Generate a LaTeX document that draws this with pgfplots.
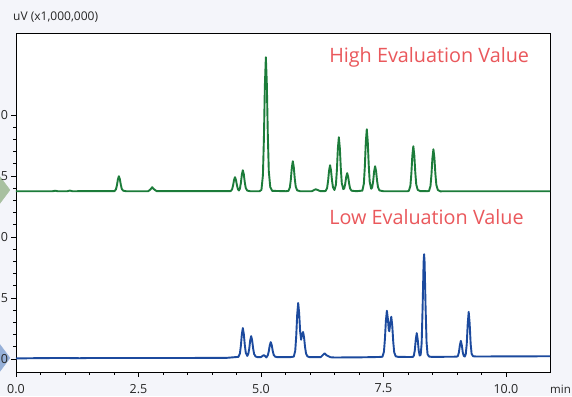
\documentclass[border=0pt]{standalone}
\usepackage{pgfplots}
\pgfplotsset{compat=1.18}
\usepackage{fontspec}
\setmainfont{Open Sans}
\definecolor{bgc}{RGB}{244,245,250}
\definecolor{grn}{RGB}{28,124,58}
\definecolor{blu}{RGB}{28,74,158}
\definecolor{redt}{RGB}{234,88,92}
\definecolor{gdia}{RGB}{168,192,160}
\definecolor{bdia}{RGB}{150,176,216}
\pgfplotsset{common/.style={
  at={(0pt,0pt)}, anchor=south west,
  scale only axis, width=534pt, height=339pt,
  xmin=0, xmax=10.9, ymin=-0.107, ymax=2.672}}
\begin{document}
\begin{tikzpicture}
\useasboundingbox (-16pt,-24pt) rectangle (556pt,372pt);
\clip (-16pt,-24pt) rectangle (556pt,372pt);
\fill[bgc] (-16pt,-24pt) rectangle (556pt,372pt);
\begin{axis}[common, hide axis, clip=false]
\addplot[only marks, mark=diamond*, mark size=14pt, color=gdia] coordinates {(-0.337,1.385)};
\addplot[only marks, mark=diamond*, mark size=14pt, color=bdia] coordinates {(-0.337,0.008)};
\end{axis}
\begin{axis}[
  common,
  axis background/.style={fill=white},
  xtick={0,2.5,5,7.5,10}, minor x tick num=4,
  ytick={0,0.5,1,1.5,2}, minor y tick num=4,
  xtick pos=bottom, ytick pos=left,
  tick align=outside,
  major tick length=4.5pt, minor tick length=2.5pt,
  tick style={black, line width=0.6pt},
  axis line style={black, line width=0.9pt},
  /pgf/number format/assume math mode=true,
  xticklabel={\pgfmathprintnumber[fixed,fixed zerofill,precision=1]{\tick}},
  yticklabel={\pgfmathprintnumber[fixed,fixed zerofill,precision=1]{\tick}},
  tick label style={font=\fontsize{12.5}{14}\selectfont, text=black!85},
  xticklabel style={inner sep=1pt},
  xticklabel shift=6.3pt,
  clip=false,
]
\addplot[grn, line width=1.9pt, line join=round] coordinates {
(0,1.375)(0.75,1.375)(0.80,1.379)(0.85,1.375)(1.05,1.375)(1.10,1.380)(1.15,1.375)
(2.01,1.376)(2.04,1.390)(2.06,1.423)(2.08,1.472)(2.10,1.498)(2.12,1.473)(2.14,1.427)(2.16,1.393)(2.19,1.379)(2.25,1.375)
(2.70,1.375)(2.75,1.392)(2.78,1.408)(2.81,1.393)(2.87,1.376)
(4.38,1.376)(4.41,1.389)(4.43,1.420)(4.45,1.466)(4.47,1.490)(4.49,1.467)(4.51,1.423)(4.53,1.392)(4.55,1.381)
(4.57,1.396)(4.59,1.442)(4.61,1.511)(4.63,1.547)(4.65,1.513)(4.67,1.447)(4.69,1.401)(4.72,1.380)(4.78,1.375)
(4.97,1.375)(5.01,1.386)(5.04,1.507)(5.06,1.803)(5.08,2.242)(5.10,2.473)(5.12,2.253)(5.14,1.836)(5.16,1.540)(5.19,1.408)(5.23,1.378)
(5.50,1.375)(5.56,1.377)(5.59,1.405)(5.61,1.471)(5.63,1.569)(5.65,1.621)(5.67,1.572)(5.69,1.478)(5.71,1.412)(5.74,1.382)(5.80,1.375)
(6.04,1.375)(6.09,1.386)(6.12,1.391)(6.15,1.386)(6.21,1.376)(6.28,1.375)
(6.32,1.377)(6.35,1.401)(6.37,1.458)(6.39,1.543)(6.41,1.588)(6.43,1.545)(6.45,1.464)(6.47,1.407)(6.50,1.385)
(6.53,1.428)(6.55,1.548)(6.57,1.725)(6.59,1.818)(6.61,1.729)(6.63,1.561)(6.65,1.441)(6.68,1.392)
(6.70,1.399)(6.72,1.435)(6.74,1.492)(6.76,1.523)(6.78,1.493)(6.80,1.437)(6.82,1.397)(6.85,1.379)(6.95,1.375)
(7.07,1.380)(7.10,1.436)(7.12,1.573)(7.14,1.776)(7.16,1.883)(7.18,1.781)(7.20,1.588)(7.22,1.451)(7.25,1.395)
(7.27,1.406)(7.29,1.455)(7.31,1.537)(7.33,1.580)(7.35,1.539)(7.37,1.461)(7.39,1.406)(7.42,1.381)(7.50,1.375)
(8.00,1.375)(8.02,1.379)(8.05,1.419)(8.07,1.519)(8.09,1.667)(8.11,1.744)(8.13,1.670)(8.15,1.530)(8.17,1.430)(8.20,1.386)(8.25,1.376)
(8.40,1.375)(8.43,1.378)(8.46,1.416)(8.48,1.509)(8.50,1.647)(8.52,1.719)(8.54,1.650)(8.56,1.519)(8.58,1.427)(8.61,1.385)(8.66,1.374)
(8.75,1.375)(10.9,1.375)
};
\addplot[blu, line width=1.9pt, line join=round] coordinates {
(0,0.004)(0.5,0.007)(1.0,0.008)(1.3,0.006)(1.5,0.008)(2.5,0.008)(3.5,0.008)(4.3,0.009)(4.45,0.014)
(4.54,0.017)(4.57,0.044)(4.59,0.108)(4.61,0.203)(4.63,0.253)(4.65,0.205)(4.67,0.115)(4.69,0.051)(4.72,0.025)
(4.74,0.039)(4.76,0.082)(4.78,0.151)(4.80,0.187)(4.82,0.153)(4.84,0.087)(4.86,0.041)(4.89,0.020)(4.93,0.015)
(5.00,0.015)(5.04,0.027)(5.06,0.031)(5.09,0.022)(5.11,0.012)
(5.14,0.030)(5.16,0.063)(5.18,0.112)(5.20,0.138)(5.22,0.113)(5.24,0.067)(5.26,0.033)(5.29,0.019)(5.33,0.015)
(5.60,0.015)(5.67,0.019)(5.70,0.068)(5.72,0.188)(5.74,0.365)(5.76,0.459)(5.78,0.373)(5.80,0.225)(5.82,0.158)
(5.84,0.198)(5.86,0.221)(5.88,0.176)(5.90,0.098)(5.92,0.045)(5.95,0.021)(5.99,0.015)
(6.22,0.015)(6.27,0.035)(6.30,0.046)(6.34,0.030)(6.42,0.014)(6.50,0.012)(7.0,0.013)(7.40,0.016)
(7.48,0.018)(7.51,0.059)(7.53,0.161)(7.55,0.312)(7.57,0.395)(7.59,0.330)(7.61,0.235)(7.62,0.227)
(7.64,0.293)(7.66,0.346)(7.68,0.273)(7.70,0.142)(7.72,0.054)(7.75,0.022)(7.80,0.017)
(8.05,0.016)(8.10,0.017)(8.12,0.026)(8.14,0.070)(8.16,0.158)(8.18,0.212)(8.20,0.158)(8.22,0.070)(8.24,0.028)
(8.26,0.034)(8.28,0.129)(8.30,0.426)(8.32,0.794)(8.33,0.859)(8.34,0.794)(8.36,0.430)(8.38,0.139)(8.40,0.040)(8.43,0.020)(8.48,0.017)
(8.90,0.018)(9.00,0.019)(9.02,0.024)(9.04,0.053)(9.06,0.112)(9.08,0.148)(9.10,0.112)(9.12,0.053)(9.14,0.024)
(9.16,0.020)(9.18,0.038)(9.20,0.120)(9.22,0.285)(9.24,0.386)(9.26,0.290)(9.28,0.125)(9.30,0.042)(9.33,0.022)
(9.40,0.020)(10.0,0.021)(10.9,0.022)
};
\node[anchor=west, inner sep=0pt, text=redt, font=\fontsize{19.8}{22}\selectfont] at (axis cs:6.39,2.475) {High Evaluation Value};
\node[anchor=west, inner sep=0pt, text=redt, font=\fontsize{19.8}{22}\selectfont] at (axis cs:6.39,1.164) {Low Evaluation Value};
\end{axis}
\node[anchor=base west, inner sep=0pt, font=\fontsize{12}{14}\selectfont, text=black!85] at (-3pt,351pt) {uV (x1,000,000)};
\node[anchor=base west, inner sep=0pt, font=\fontsize{11.5}{14}\selectfont, text=black!85] at (534pt,-21pt) {min};
\end{tikzpicture}
\end{document}
